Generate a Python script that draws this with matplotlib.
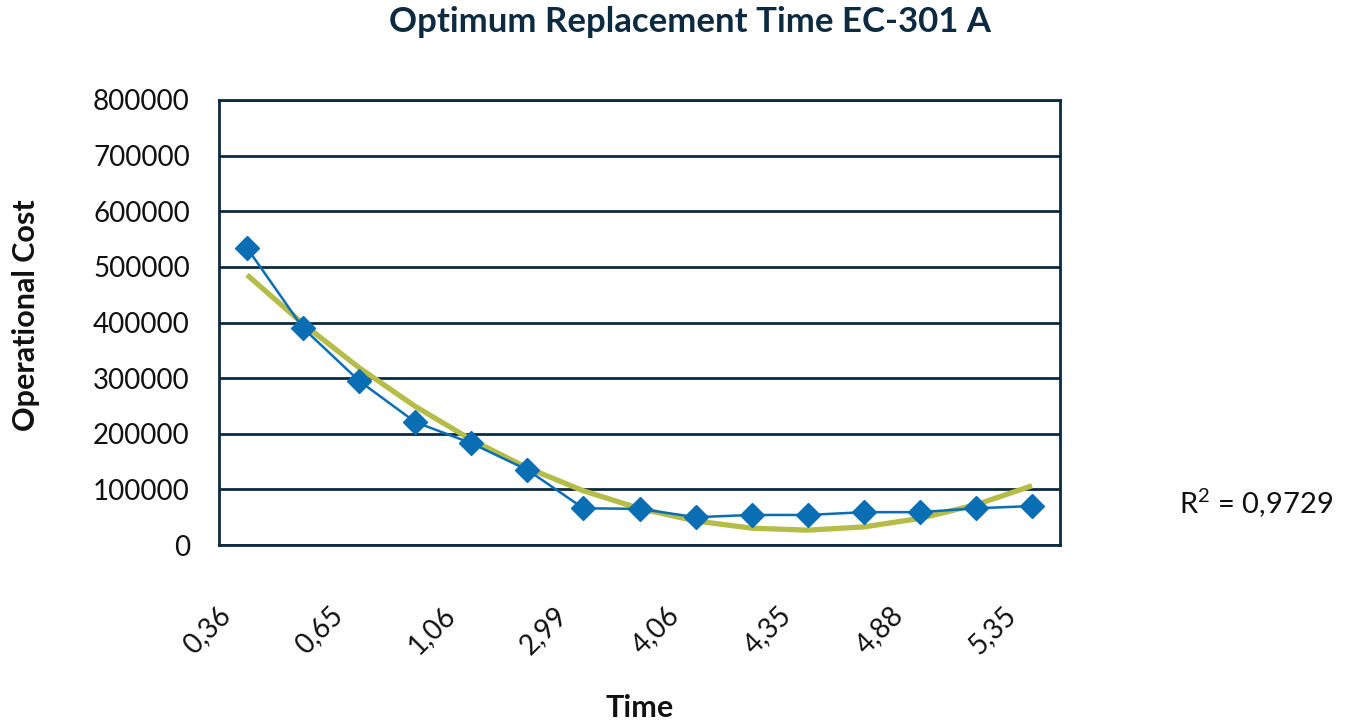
import numpy as np
import matplotlib
matplotlib.use("Agg")
import matplotlib.pyplot as plt
from matplotlib.transforms import ScaledTranslation

# Data
categories = ["0,36", "", "0,65", "", "1,06", "", "2,99", "", "4,06", "", "4,35", "", "4,88", "", "5,35"]
cost = [534000, 390000, 295000, 221000, 183000, 135000, 66000, 65000, 50000, 54000, 54000, 59000, 59000, 66000, 70000]
r2_text = "R$^{2}$ = 0,9729"

navy = "#0d2b40"
blue = "#0a6eb4"
green = "#b5bd48"

plt.rcParams['font.family'] = ['Lato', 'DejaVu Sans']
plt.rcParams['mathtext.fontset'] = 'custom'
plt.rcParams['mathtext.rm'] = 'Lato'
plt.rcParams['mathtext.it'] = 'Lato'
plt.rcParams['mathtext.default'] = 'regular'

fig = plt.figure(figsize=(13.5, 7.25), dpi=100)
ax = fig.add_axes([219/1350, 1-545/725, (1060-219)/1350, (545-100)/725])

x = np.arange(len(cost))
coef = np.polyfit(x, cost, 2)
trend = np.polyval(coef, x)

ax.plot(x, trend, color=green, lw=3.8, zorder=3, solid_capstyle='butt')
ax.plot(x, cost, color=blue, lw=1.8, marker='D', markersize=12, zorder=4)

ax.set_xlim(-0.5, len(cost)-0.5)
ax.set_ylim(0, 800000)
ax.set_yticks(np.arange(0, 800001, 100000))
ax.set_yticklabels([f"{int(v)}" for v in np.arange(0, 800001, 100000)])
ax.grid(axis='y', color=navy, lw=2)
ax.set_axisbelow(True)
for s in ax.spines.values():
    s.set_color(navy)
    s.set_linewidth(2)
ax.tick_params(axis='y', length=0, pad=21, labelsize=20, labelcolor='#111111')
ax.set_xticks(x)
ax.set_xticklabels(categories, rotation=45, ha='right', rotation_mode='anchor')
ax.tick_params(axis='x', length=0, pad=41, labelsize=20, labelcolor='#111111')
off = ScaledTranslation(-0.30, 0, fig.dpi_scale_trans)
for lab in ax.get_xticklabels():
    lab.set_transform(lab.get_transform() + off)

fig.text(690/1350, 1-22/725, "Optimum Replacement Time EC-301 A", ha='center', va='center',
         fontsize=25, fontweight='bold', color=navy)
fig.text(640/1350, 1-708/725, "Time", ha='center', va='center', fontsize=22, fontweight='bold', color='#111111')
fig.text(26/1350, 1-315/725, "Operational Cost", ha='center', va='center', rotation=90,
         fontsize=22, fontweight='bold', color='#111111')
fig.text(1256/1350, 1-503/725, r2_text, ha='center', va='center', fontsize=21, color='#111111')

fig.savefig("out.png", dpi=100)
